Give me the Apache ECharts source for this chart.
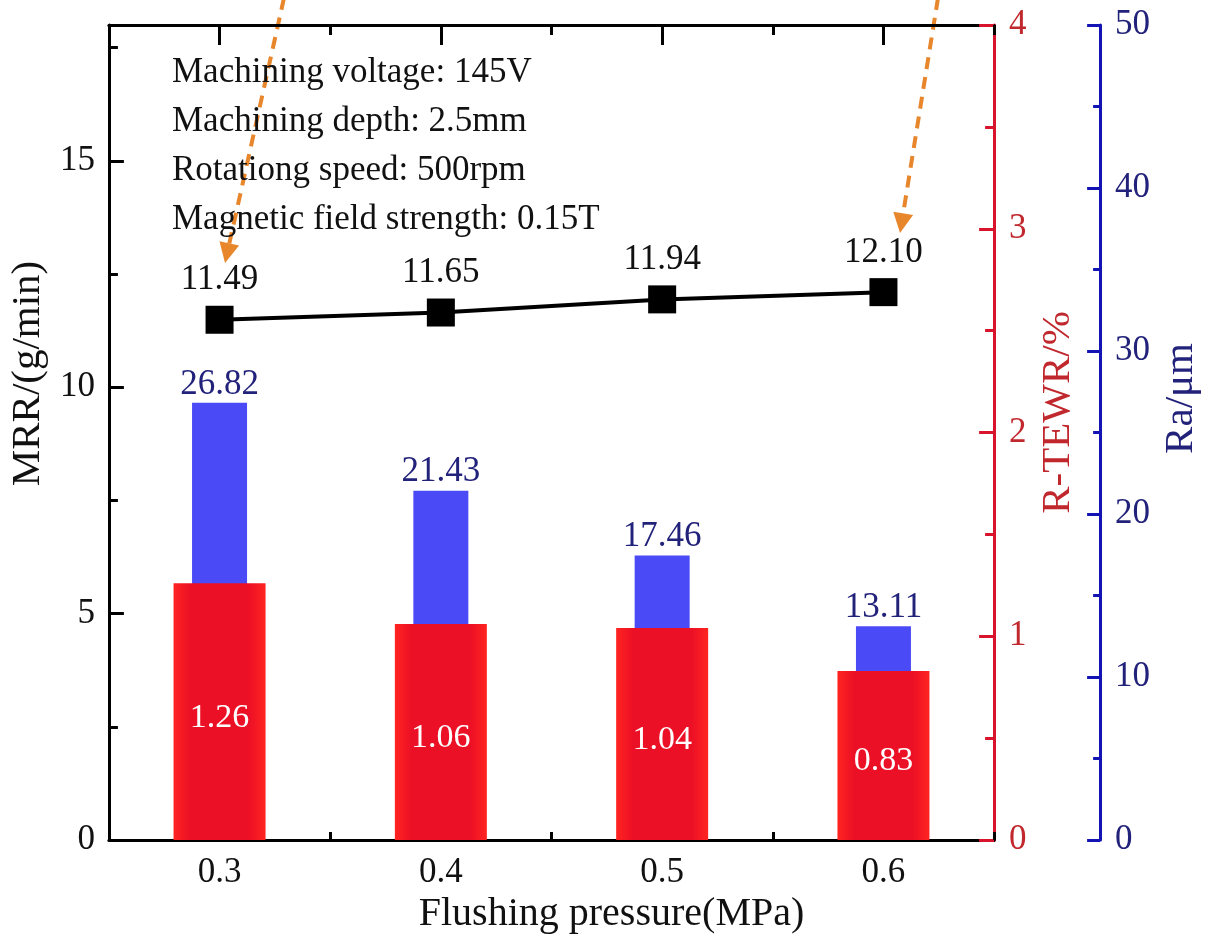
<!DOCTYPE html>
<html>
<head>
<meta charset="utf-8">
<script src="https://cdn.jsdelivr.net/npm/echarts@6/dist/echarts.min.js"></script>
<style>
html,body{margin:0;padding:0;background:#fff;font-family:'Liberation Serif',serif;}
#chart{width:1210px;height:943px;}
</style>
</head>
<body>
<div id="chart"></div>
<script>
const categories = ['0.3', '0.4', '0.5', '0.6'];
const mrrValues = [11.49, 11.65, 11.94, 12.10];
const tewrValues = [1.26, 1.06, 1.04, 0.83];
const raValues = [26.82, 21.43, 17.46, 13.11];
const annotationLines = [
  'Machining voltage: 145V',
  'Machining depth: 2.5mm',
  'Rotationg speed: 500rpm',
  'Magnetic field strength: 0.15T'
];

const FONT = 'Liberation Serif';
const RED_AXIS = '#d8142c';
const RED_TEXT = '#c0282d';
const BLUE_AXIS = '#1414b4';
const BLUE_TEXT = '#22227a';
const ORANGE = '#e8862c';

const chart = echarts.init(document.getElementById('chart'), null, {renderer: 'canvas'});

function yAx(opts) {
  return Object.assign({
    type: 'value',
    splitLine: {show: false},
    axisLine: {show: true, lineStyle: {width: 3}},
    axisTick: {show: true, inside: true},
    axisLabel: {fontFamily: FONT, fontSize: 35}
  }, opts);
}

const option = {
  backgroundColor: '#fff',
  animation: false,
  textStyle: {fontFamily: FONT},
  grid: {left: 108, right: 208, top: 25, bottom: 103, containLabel: false},
  xAxis: [
    {
      type: 'category', data: categories, position: 'bottom',
      axisLine: {show: true, onZero: false, lineStyle: {color: '#000', width: 3}},
      axisTick: {show: true, inside: true, length: 8, lineStyle: {width: 3, color: '#000'}},
      axisLabel: {fontFamily: FONT, fontSize: 35, color: '#111', margin: 15},
      name: 'Flushing pressure(MPa)', nameLocation: 'middle', nameGap: 42,
      nameTextStyle: {fontFamily: FONT, fontSize: 40, color: '#111', padding: [0, 0, 0, 120]}
    },
    {
      type: 'category', data: categories, position: 'top',
      axisLine: {show: true, onZero: false, lineStyle: {color: '#000', width: 3}},
      axisTick: {show: true, inside: true, alignWithLabel: true, length: 20, lineStyle: {width: 3, color: '#000'}},
      axisLabel: {show: false}
    },
    {
      type: 'category', data: categories, position: 'top',
      axisLine: {show: false, onZero: false},
      axisTick: {show: true, inside: true, length: 10, lineStyle: {width: 3, color: '#000'}},
      axisLabel: {show: false}
    }
  ],
  yAxis: [
    yAx({
      position: 'left', min: 0, max: 18, interval: 5,
      axisLine: {show: true, onZero: false, lineStyle: {color: '#000', width: 3}},
      axisTick: {show: true, inside: true, length: 15, lineStyle: {width: 3, color: '#000'}},
      axisLabel: {fontFamily: FONT, fontSize: 35, color: '#111', margin: 14, showMaxLabel: false,
        formatter: v => (v % 5 === 0 ? String(v) : '')},
      name: 'MRR/(g/min)', nameLocation: 'middle', nameRotate: 90, nameGap: 58,
      nameTextStyle: {fontFamily: FONT, fontSize: 41, color: '#111', padding: [0, 0, 0, 118]}
    }),
    yAx({
      position: 'left', min: 0, max: 18, interval: 2.5,
      axisLine: {show: false, onZero: false},
      axisTick: {show: true, inside: true, length: 9, lineStyle: {width: 3, color: '#000'}},
      axisLabel: {show: false}
    }),
    yAx({
      position: 'right', min: 0, max: 4, interval: 1,
      axisLine: {show: true, onZero: false, lineStyle: {color: RED_AXIS, width: 3}},
      axisTick: {show: true, inside: true, length: 15, lineStyle: {width: 3, color: RED_AXIS}},
      axisLabel: {fontFamily: FONT, fontSize: 35, color: RED_TEXT, margin: 15},
      name: 'R-TEWR/%', nameLocation: 'middle', nameRotate: 90, nameGap: 40,
      nameTextStyle: {fontFamily: FONT, fontSize: 41, color: RED_TEXT, padding: [0, 0, 0, 40]}
    }),
    yAx({
      position: 'right', min: 0, max: 4, interval: 0.5,
      axisLine: {show: false, onZero: false},
      axisTick: {show: true, inside: true, length: 9, lineStyle: {width: 3, color: RED_AXIS}},
      axisLabel: {show: false}
    }),
    yAx({
      position: 'right', offset: 106, min: 0, max: 50, interval: 10,
      axisLine: {show: true, onZero: false, lineStyle: {color: BLUE_AXIS, width: 3}},
      axisTick: {show: true, inside: true, length: 13, lineStyle: {width: 3, color: BLUE_AXIS}},
      axisLabel: {fontFamily: FONT, fontSize: 35, color: BLUE_TEXT, margin: 15},
      name: 'Ra/μm', nameLocation: 'middle', nameRotate: 90, nameGap: 60,
      nameTextStyle: {fontFamily: FONT, fontSize: 41, color: BLUE_TEXT, padding: [0, 0, 0, 68]}
    }),
    yAx({
      position: 'right', offset: 106, min: 0, max: 50, interval: 5,
      axisLine: {show: false, onZero: false},
      axisTick: {show: true, inside: true, length: 7, lineStyle: {width: 3, color: BLUE_AXIS}},
      axisLabel: {show: false}
    })
  ],
  series: [
    {
      name: 'Ra', type: 'bar', xAxisIndex: 1, yAxisIndex: 4,
      data: raValues, barWidth: 55, z: 2,
      itemStyle: {color: '#4a4af6'},
      label: {show: true, position: 'top', distance: 1, fontFamily: FONT, fontSize: 35, color: BLUE_TEXT,
        formatter: p => p.value.toFixed(2)}
    },
    {
      name: 'R-TEWR', type: 'bar', xAxisIndex: 0, yAxisIndex: 2,
      data: tewrValues, barWidth: 92, z: 3,
      itemStyle: {
        color: new echarts.graphic.LinearGradient(0, 0, 1, 0, [
          {offset: 0, color: '#ff2420'},
          {offset: 0.18, color: '#ec1026'},
          {offset: 0.82, color: '#ec1026'},
          {offset: 1, color: '#ff2420'}
        ])
      },
      label: {show: true, position: 'inside', offset: [0, 6], fontFamily: FONT, fontSize: 34, color: '#fff',
        formatter: p => p.value.toFixed(2)}
    },
    {
      name: 'MRR', type: 'line', xAxisIndex: 0, yAxisIndex: 0,
      data: mrrValues, z: 5,
      symbol: 'rect', symbolSize: 28,
      itemStyle: {color: '#000'},
      lineStyle: {color: '#000', width: 4},
      label: {show: true, position: 'top', distance: 8, fontFamily: FONT, fontSize: 35, color: '#111',
        formatter: p => p.value.toFixed(2)}
    }
  ],
  graphic: [
    {
      type: 'text', left: 172, top: 48, z: 10,
      style: {text: annotationLines.join('\n'), fontFamily: FONT, fontSize: 35, lineHeight: 49, fill: '#111'}
    },
    {
      type: 'group', z: 20,
      children: [
        {type: 'line', shape: {x1: 284, y1: -2, x2: 229.3, y2: 243.5},
          style: {stroke: ORANGE, lineWidth: 4, lineDash: [12, 8]}},
        {type: 'polygon', shape: {points: [[225, 263], [239.1, 245.6], [219.5, 241.3]]},
          style: {fill: ORANGE}},
        {type: 'line', shape: {x1: 938, y1: -2, x2: 903.2, y2: 213.3},
          style: {stroke: ORANGE, lineWidth: 4, lineDash: [12, 8]}},
        {type: 'polygon', shape: {points: [[900, 233], [913.1, 214.9], [893.3, 211.7]]},
          style: {fill: ORANGE}}
      ]
    }
  ]
};

chart.setOption(option);
</script>
</body>
</html>
